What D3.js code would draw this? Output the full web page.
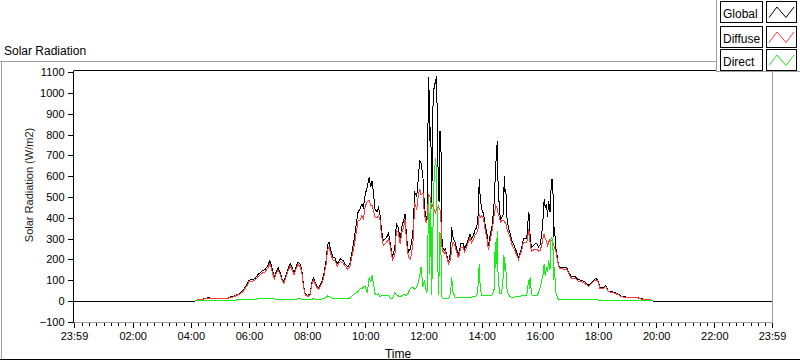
<!DOCTYPE html>
<html><head><meta charset="utf-8">
<script src="https://cdn.jsdelivr.net/npm/d3@7"></script>
<style>
body{margin:0;background:#fff;}
svg{display:block;font-family:"Liberation Sans",Arial,sans-serif;}
</style></head><body>
<svg id="chart" width="800" height="361"></svg>
<script>
const times = ["00:00","04:09","04:15","04:29","04:36","04:46","05:00","05:15","05:21","05:29","05:35","05:41","05:48","05:56","06:00","06:06","06:12","06:19","06:23","06:29","06:33","06:39","06:43","06:47","06:52","06:56","07:00","07:04","07:08","07:12","07:16","07:20","07:25","07:29","07:33","07:37","07:41","07:45","07:49","07:52","07:56","08:02","08:06","08:10","08:13","08:18","08:23","08:30","08:34","08:39","08:42","08:45","08:49","08:53","08:57","09:02","09:08","09:14","09:18","09:24","09:28","09:33","09:37","09:41","09:45","09:49","09:53","09:56","10:00","10:04","10:08","10:11","10:14","10:17","10:20","10:24","10:27","10:30","10:33","10:37","10:44","10:48","10:51","10:56","11:01","11:04","11:08","11:12","11:15","11:19","11:22","11:25","11:29","11:33","11:38","11:42","11:46","11:49","11:52","11:55","11:59","12:02","12:06","12:08","12:10","12:11","12:13","12:15","12:17","12:20","12:22","12:25","12:27","12:29","12:31","12:33","12:34","12:36","12:37","12:39","12:43","12:45","12:49","12:52","12:56","12:58","13:01","13:05","13:12","13:17","13:22","13:25","13:29","13:36","13:39","13:43","13:46","13:50","13:53","13:55","13:57","14:00","14:04","14:07","14:11","14:14","14:17","14:21","14:24","14:26","14:28","14:29","14:31","14:32","14:34","14:37","14:39","14:41","14:44","14:46","14:47","14:48","14:50","14:52","14:55","14:59","15:02","15:07","15:16","15:23","15:26","15:33","15:37","15:39","15:40","15:43","15:50","15:54","15:57","16:01","16:04","16:07","16:09","16:11","16:14","16:16","16:18","16:21","16:23","16:25","16:27","16:28","16:30","16:33","16:37","16:40","16:45","16:52","16:55","17:01","17:06","17:13","17:19","17:26","17:33","17:40","17:47","17:54","17:59","18:04","18:11","18:16","18:21","18:32","18:42","18:49","18:59","19:20","19:30","19:47","19:53","23:59"];
const globalVals = [0,0,7,11,16,11,11,11,19,22,31,35,51,80,100,102,107,128,136,148,151,171,195,163,115,140,160,140,107,91,120,150,182,160,135,163,187,180,150,83,32,27,35,90,112,83,60,91,123,195,267,283,243,211,208,179,203,195,179,163,179,243,299,363,427,443,467,451,515,547,595,547,579,515,443,427,450,420,350,291,307,326,283,211,259,371,355,291,355,387,419,307,235,251,323,523,505,580,675,665,590,451,390,420,1067,1075,771,835,470,995,1027,1059,1083,803,483,480,819,787,355,259,243,250,211,187,235,355,307,283,219,275,275,251,275,323,299,315,339,355,419,587,499,443,419,371,323,267,307,355,419,483,600,659,707,771,547,435,387,403,410,539,603,531,535,403,355,323,291,267,211,259,299,299,427,403,299,259,275,275,260,270,323,403,491,451,467,403,483,427,531,587,575,307,355,259,195,163,163,160,163,131,115,118,103,99,91,75,91,107,105,67,65,75,48,43,32,22,19,18,10,7,0,0];
const diffuseVals = [null,0,6,10,14,10,10,10,17,20,28,32,47,74,93,95,99,118,126,137,140,158,180,150,106,130,150,131,100,85,112,140,170,150,126,152,175,168,140,77,28,23,30,82,100,75,54,83,112,175,245,260,225,197,195,168,190,183,168,152,165,220,265,325,385,390,410,395,455,480,483,460,460,430,403,400,410,395,325,265,283,300,270,198,220,340,330,275,330,355,390,285,210,200,270,470,440,500,540,510,520,410,375,400,500,510,507,470,451,467,440,420,451,440,460,440,440,400,291,243,230,238,203,179,200,250,285,265,205,258,258,235,258,305,280,295,315,330,350,419,403,410,395,345,300,245,285,330,380,420,440,459,450,443,420,400,380,385,385,387,380,380,371,350,330,307,275,250,200,245,280,280,339,330,270,240,250,250,240,245,270,307,323,300,290,259,280,299,291,291,280,270,260,240,190,158,155,152,155,125,108,110,96,92,85,70,85,100,98,62,60,70,45,40,30,20,17,16,9,6,0,null];
const directVals = [null,0,2,3,3,3,3,3,3,4,5,5,6,7,8,8,9,10,10,11,12,12,13,12,10,9,8,8,7,6,7,8,9,9,8,9,10,10,9,7,5,5,6,8,12,9,7,9,11,18,25,22,16,12,11,10,11,11,11,12,15,25,35,38,45,59,60,67,70,40,115,90,123,83,35,30,35,20,25,27,25,27,13,12,40,30,25,20,25,30,30,25,40,60,67,55,67,90,115,163,70,100,43,50,450,500,130,470,30,400,600,690,610,250,30,200,330,260,27,15,11,11,11,11,40,115,43,19,19,19,19,19,19,19,19,20,22,25,83,179,67,27,27,27,27,27,27,27,43,60,283,160,219,339,115,35,35,35,99,219,150,187,150,60,35,20,19,19,20,25,27,27,99,60,115,30,25,25,40,67,99,131,179,120,163,140,195,150,299,306,291,100,163,43,11,8,8,8,8,8,8,8,7,7,7,6,6,5,5,4,4,4,3,3,3,3,3,3,2,2,0,null];
const yTicks = [-100,0,100,200,300,400,500,600,700,800,900,1000,1100];
const xTickMinutes = [-1,120,240,360,480,600,720,840,960,1080,1200,1320,1439];
const xTickLabels = ["23:59","02:00","04:00","06:00","08:00","10:00","12:00","14:00","16:00","18:00","20:00","22:00","23:59"];
const seriesNames = ["Global","Diffuse","Direct"];
const seriesColors = ["#000000","#ff3c3c","#14f014"];
const seriesValues = [globalVals, diffuseVals, directVals];

const toMin = s => { const p = s.split(":"); return +p[0]*60 + +p[1]; };
const svg = d3.select("#chart");
const L = 74, R = 772, T = 70.5, B = 322.5;
const x = d3.scaleLinear().domain([-1, 1439]).range([L, R]);
const y = d3.scaleLinear().domain([-100, 1100]).range([321.8, 72.3]);

// outer panel
svg.append("line").attr("x1",0).attr("x2",800).attr("y1",61.5).attr("y2",61.5).attr("stroke","#a0a0a0");
svg.append("line").attr("x1",1.5).attr("x2",1.5).attr("y1",61.5).attr("y2",360).attr("stroke","#a0a0a0");
svg.append("line").attr("x1",0).attr("x2",800).attr("y1",359.5).attr("y2",359.5).attr("stroke","#000");
svg.append("text").attr("x",4).attr("y",55).attr("font-size","12px").attr("fill","#000").text("Solar Radiation");

// plot frame
svg.append("line").attr("x1",L).attr("x2",R).attr("y1",T).attr("y2",T).attr("stroke","#000");
svg.append("line").attr("x1",R+0.5).attr("x2",R+0.5).attr("y1",T).attr("y2",B).attr("stroke","#a0a0a0");
svg.append("line").attr("x1",L).attr("x2",R+0.5).attr("y1",B).attr("y2",B).attr("stroke","#a0a0a0");

// series
const plot = svg.append("g");
seriesValues.forEach((vals, i) => {
  const data = times.map((t, k) => ({t: toMin(t), v: vals[k]}));
  const line = d3.line().defined(d => d.v !== null).x(d => x(d.t)).y(d => y(d.v));
  plot.append("path").datum(data).attr("d", line).attr("fill","none")
    .attr("stroke", seriesColors[i]).attr("stroke-width",1).attr("shape-rendering","crispEdges");
});

// y axis
const yAxis = svg.append("g").attr("transform",`translate(${L-0.5},0)`)
  .call(d3.axisLeft(y).tickValues(yTicks).tickSize(6).tickSizeOuter(0).tickPadding(3).tickFormat(d3.format("d")));
yAxis.select(".domain").remove();
yAxis.selectAll("text").attr("font-size","11px").attr("font-family","Liberation Sans, Arial, sans-serif").attr("fill","#000");
yAxis.selectAll("line").attr("shape-rendering","crispEdges");
svg.append("line").attr("x1",L-0.5).attr("x2",L-0.5).attr("y1",T).attr("y2",B).attr("stroke","#000");

// x axis
const minor = d3.range(15, 1440, 15).filter(m => m % 120 !== 0);
const xMinor = svg.append("g").attr("transform",`translate(0,${B})`)
  .call(d3.axisBottom(x).tickValues(minor).tickSize(3).tickSizeOuter(0).tickFormat(""));
xMinor.select(".domain").remove();
xMinor.selectAll("line").attr("shape-rendering","crispEdges");
const xAxis = svg.append("g").attr("transform",`translate(0,${B})`)
  .call(d3.axisBottom(x).tickValues(xTickMinutes).tickSize(5).tickSizeOuter(0).tickPadding(5)
    .tickFormat((d, i) => xTickLabels[i]));
xAxis.select(".domain").remove();
xAxis.selectAll("line").attr("shape-rendering","crispEdges");
xAxis.selectAll("text").attr("font-size","11px").attr("font-family","Liberation Sans, Arial, sans-serif").attr("fill","#000");

// axis titles
svg.append("text").attr("transform","translate(33,185) rotate(-90)").attr("text-anchor","middle")
  .attr("font-size","11px").attr("fill","#1a1a1a").text("Solar Radiation (W/m2)");
svg.append("text").attr("x",398).attr("y",358).attr("text-anchor","middle")
  .attr("font-size","12px").attr("fill","#000").text("Time");

// legend
const lg = svg.append("g");
lg.append("rect").attr("x",716.5).attr("y",-1).attr("width",90).attr("height",72.5)
  .attr("fill","#fff").attr("stroke","#a0a0a0");
const rowY = [1.5, 26.5, 49.5];
seriesNames.forEach((name, i) => {
  const r = lg.append("g").attr("transform",`translate(0,${rowY[i]})`);
  r.append("rect").attr("x",720.5).attr("y",0).attr("width",42).attr("height",21)
    .attr("fill","#fff").attr("stroke","#000");
  r.append("text").attr("x",723).attr("y",16).attr("font-size","12px").attr("fill","#000").text(name);
  r.append("rect").attr("x",766.5).attr("y",0).attr("width",30).attr("height",21)
    .attr("fill","#fff").attr("stroke","#000");
  r.append("path").attr("d","M769,16L777,5.5L786,16L794,5.5").attr("fill","none")
    .attr("stroke",seriesColors[i]).attr("stroke-width",1);
});
</script>
</body></html>
